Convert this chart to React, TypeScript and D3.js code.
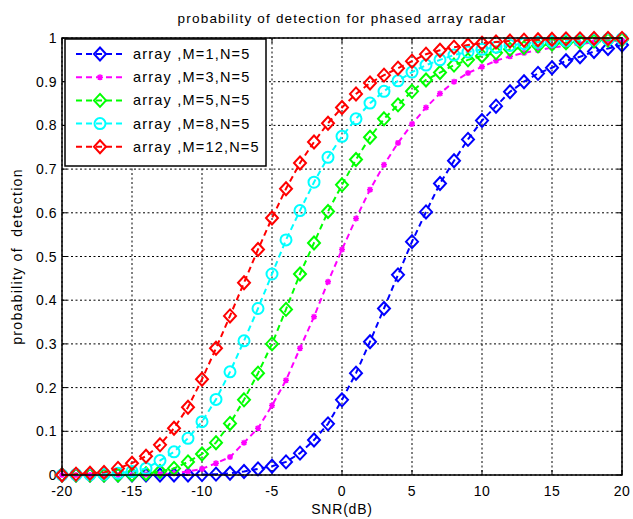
import React from "react";
import * as d3 from "d3";

const snr: number[] = d3.range(-20, 21);

const pdM1: number[] = [0, 0, 0, 0, 0, 0, 0, 0, 0, 0, 0.001, 0.002, 0.004, 0.008, 0.014, 0.02, 0.03, 0.05, 0.08, 0.117, 0.172, 0.233, 0.305, 0.381, 0.458, 0.534, 0.602, 0.667, 0.719, 0.768, 0.811, 0.844, 0.877, 0.9, 0.919, 0.932, 0.948, 0.957, 0.969, 0.976, 0.984];
const pdM3: number[] = [0, 0, 0, 0, 0, 0, 0.001, 0.002, 0.004, 0.008, 0.014, 0.027, 0.041, 0.074, 0.107, 0.159, 0.217, 0.29, 0.362, 0.442, 0.516, 0.587, 0.653, 0.71, 0.76, 0.803, 0.841, 0.873, 0.9, 0.92, 0.934, 0.948, 0.958, 0.966, 0.972, 0.978, 0.982, 0.986, 0.99, 0.992, 0.994];
const pdM5: number[] = [0, 0, 0, 0, 0, 0.001, 0.003, 0.008, 0.015, 0.03, 0.048, 0.074, 0.118, 0.172, 0.233, 0.3, 0.379, 0.46, 0.531, 0.603, 0.664, 0.722, 0.773, 0.815, 0.847, 0.878, 0.904, 0.921, 0.938, 0.95, 0.959, 0.966, 0.974, 0.978, 0.982, 0.986, 0.989, 0.991, 0.993, 0.995, 0.996];
const pdM8: number[] = [0, 0.001, 0.001, 0.002, 0.004, 0.008, 0.015, 0.033, 0.053, 0.084, 0.122, 0.173, 0.236, 0.307, 0.381, 0.46, 0.538, 0.605, 0.67, 0.727, 0.775, 0.815, 0.851, 0.878, 0.902, 0.922, 0.938, 0.95, 0.961, 0.968, 0.974, 0.979, 0.983, 0.987, 0.99, 0.992, 0.994, 0.995, 0.996, 0.997, 0.998];
const pdM12: number[] = [0, 0.002, 0.004, 0.006, 0.015, 0.027, 0.043, 0.069, 0.107, 0.155, 0.219, 0.29, 0.364, 0.44, 0.516, 0.588, 0.655, 0.714, 0.762, 0.805, 0.841, 0.872, 0.897, 0.915, 0.931, 0.947, 0.963, 0.972, 0.979, 0.984, 0.988, 0.991, 0.993, 0.995, 0.996, 0.997, 0.998, 0.998, 0.999, 0.999, 0.999];

const seriesLabels: string[] = ["array ,M=1,N=5", "array ,M=3,N=5", "array ,M=5,N=5", "array ,M=8,N=5", "array ,M=12,N=5"];
const seriesColors: string[] = ["#0000ff", "#ff00ff", "#00ff00", "#00ffff", "#ff0000"];
const seriesMarkers: string[] = ["diamond", "star", "diamond", "circle", "diamond"];
const seriesData: number[][] = [pdM1, pdM3, pdM5, pdM8, pdM12];

const xTicks: number[] = [-20, -15, -10, -5, 0, 5, 10, 15, 20];
const yTicks: number[] = [0, 0.1, 0.2, 0.3, 0.4, 0.5, 0.6, 0.7, 0.8, 0.9, 1];

const W = 633, H = 519;
const L = 62, R = 622, T = 38, B = 475;
const FONT = "Arial, 'Liberation Sans', sans-serif";

function Marker({ type, x, y, color }: { type: string; x: number; y: number; color: string }) {
  if (type === "diamond") {
    const h = 6.5, w = 6;
    return <path d={`M${x},${y - h}L${x + w},${y}L${x},${y + h}L${x - w},${y}Z`} fill="none" stroke={color} strokeWidth={2} />;
  }
  if (type === "circle") {
    return <circle cx={x} cy={y} r={5.5} fill="none" stroke={color} strokeWidth={2} />;
  }
  const s = 3;
  return (
    <path
      d={`M${x - s},${y}L${x + s},${y}M${x},${y - s}L${x},${y + s}M${x - s * 0.75},${y - s * 0.75}L${x + s * 0.75},${y + s * 0.75}M${x - s * 0.75},${y + s * 0.75}L${x + s * 0.75},${y - s * 0.75}`}
      stroke={color}
      strokeWidth={1.5}
      fill="none"
    />
  );
}

export default function App() {
  const x = d3.scaleLinear().domain([-20, 20]).range([L, R]);
  const y = d3.scaleLinear().domain([0, 1]).range([B, T]);
  const line = d3.line<[number, number]>().x((d) => x(d[0])).y((d) => y(d[1]));

  const legX = 65, legY = 39, legW = 201, legH = 127;
  const legRow = (i: number) => 54 + i * 23.2;

  return (
    <svg width={W} height={H} style={{ position: "absolute", left: 0, top: 0, background: "#fff" }} fontFamily={FONT}>
      <rect x={0} y={0} width={W} height={H} fill="#fff" />
      {xTicks.map((t) => (
        <line key={"gx" + t} x1={x(t)} x2={x(t)} y1={T} y2={B} stroke="#000" strokeWidth={1} strokeDasharray="2,2.5" />
      ))}
      {yTicks.map((t) => (
        <line key={"gy" + t} x1={L} x2={R} y1={y(t)} y2={y(t)} stroke="#000" strokeWidth={1} strokeDasharray="2,2.5" />
      ))}
      {xTicks.map((t) => (
        <g key={"tx" + t}>
          <line x1={x(t)} x2={x(t)} y1={B} y2={B - 5} stroke="#000" />
          <line x1={x(t)} x2={x(t)} y1={T} y2={T + 5} stroke="#000" />
          <text x={x(t)} y={B + 21} textAnchor="middle" fontSize={14} letterSpacing={0.5}>{t}</text>
        </g>
      ))}
      {yTicks.map((t) => (
        <g key={"ty" + t}>
          <line x1={L} x2={L + 5} y1={y(t)} y2={y(t)} stroke="#000" />
          <line x1={R} x2={R - 5} y1={y(t)} y2={y(t)} stroke="#000" />
          <text x={L - 5} y={y(t) + 5} textAnchor="end" fontSize={14} letterSpacing={0.5}>{String(t)}</text>
        </g>
      ))}
      {seriesData.map((data, i) => {
        const pts: [number, number][] = snr.map((s, j) => [s, data[j]]);
        return (
          <g key={"s" + i}>
            <path d={line(pts) || ""} fill="none" stroke={seriesColors[i]} strokeWidth={2} strokeDasharray="6,4" />
            {pts.map((p, j) => (
              <Marker key={j} type={seriesMarkers[i]} x={x(p[0])} y={y(p[1])} color={seriesColors[i]} />
            ))}
          </g>
        );
      })}
      <rect x={L} y={T} width={R - L} height={B - T} fill="none" stroke="#000" strokeWidth={1.5} />
      <rect x={legX} y={legY} width={legW} height={legH} fill="#fff" stroke="#000" strokeWidth={1.5} />
      {seriesLabels.map((lab, i) => (
        <g key={"l" + i}>
          <line x1={76} x2={124} y1={legRow(i)} y2={legRow(i)} stroke={seriesColors[i]} strokeWidth={2} strokeDasharray="6,4" />
          <Marker type={seriesMarkers[i]} x={100} y={legRow(i)} color={seriesColors[i]} />
          <text x={133} y={legRow(i) + 5} fontSize={14.5} letterSpacing={1.2}>{lab}</text>
        </g>
      ))}
      <text x={(L + R) / 2} y={23} textAnchor="middle" fontSize={13.5} letterSpacing={1.2}>probability of detection for phased array radar</text>
      <text x={(L + R) / 2} y={514} textAnchor="middle" fontSize={14} letterSpacing={0.8}>SNR(dB)</text>
      <text transform={`translate(22,${(T + B) / 2}) rotate(-90)`} textAnchor="middle" fontSize={14} letterSpacing={1.3}>{"probability of\u00a0\u00a0detection"}</text>
    </svg>
  );
}
